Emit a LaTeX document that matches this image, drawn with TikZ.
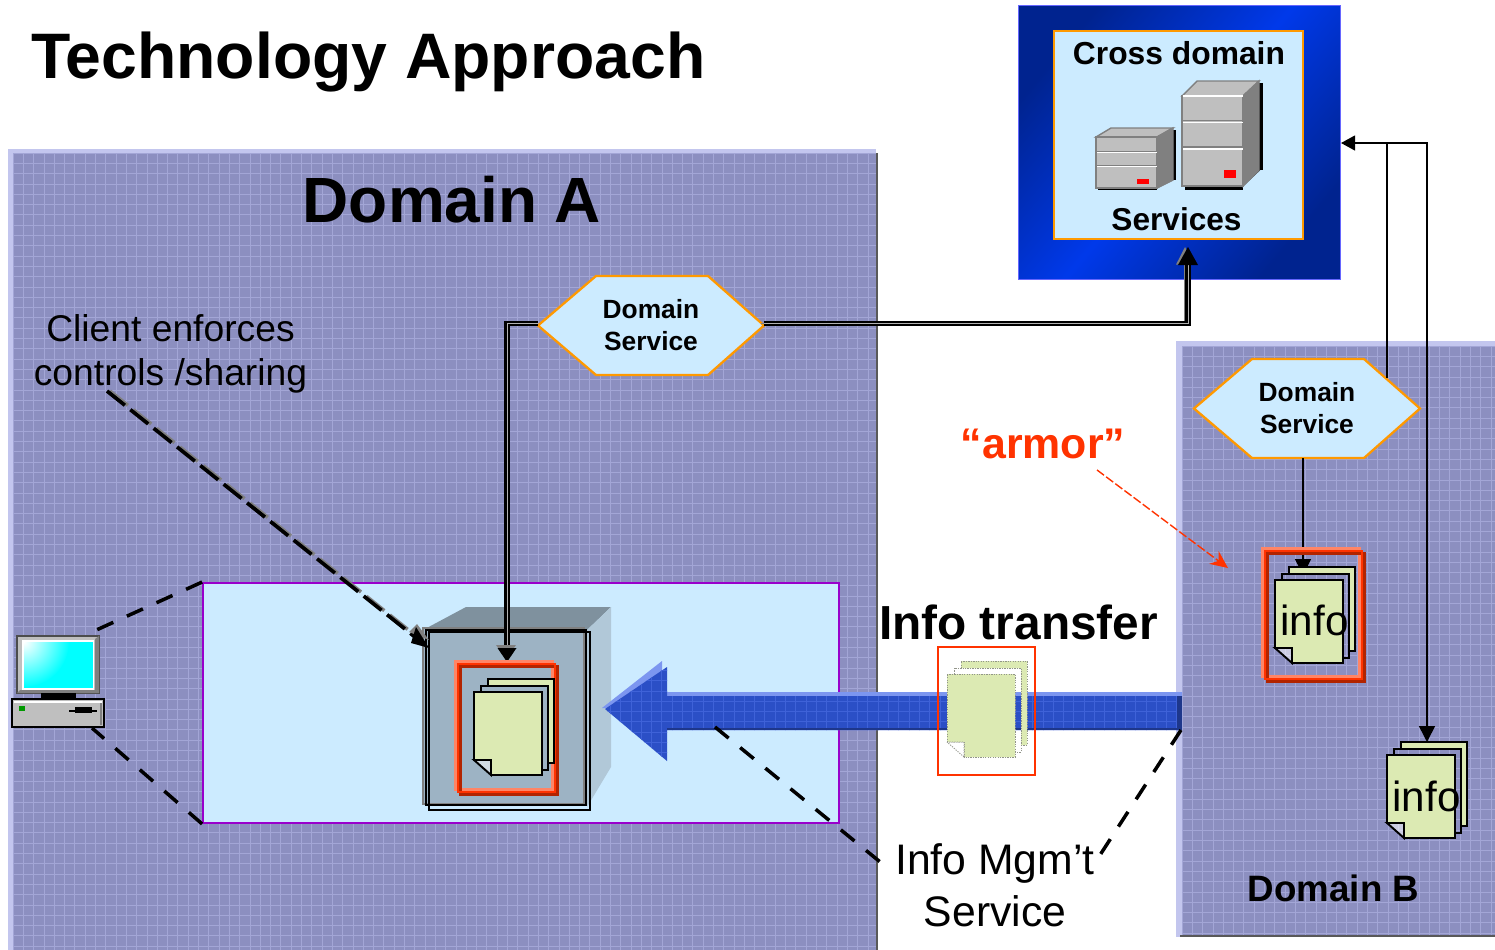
\documentclass[tikz,border=0pt]{standalone}
\usepackage{fontspec}
\setmainfont{Liberation Sans}
\usetikzlibrary{arrows.meta,calc}
\definecolor{meshbase}{HTML}{8C8FC0}
\definecolor{meshline}{HTML}{A3A6D6}
\definecolor{meshedge}{HTML}{C3C6EE}
\definecolor{paleblue}{HTML}{CCEBFF}
\definecolor{orangeline}{HTML}{FF9900}
\definecolor{redline}{HTML}{FF3300}
\definecolor{docgreen}{HTML}{DCEAB3}
\definecolor{purpleline}{HTML}{9900CC}
\definecolor{flow}{HTML}{2B4FC6}
\definecolor{flowlight}{HTML}{7C96F0}
\definecolor{flowgrid}{HTML}{3F62D8}
\definecolor{srvgray}{HTML}{BFBFBF}
\definecolor{srvside}{HTML}{808080}
\definecolor{crossdark}{HTML}{00238F}
\definecolor{crossbright}{HTML}{0039EA}
\definecolor{cubefront}{HTML}{9DB3C4}
\definecolor{cubetop}{HTML}{7F919E}
\definecolor{cubeside}{HTML}{B1C8D8}
\definecolor{screencyan}{HTML}{00FFFF}
\tikzset{
  x=0.02cm,y=-0.02cm,
  bigtext/.style={font=\fontsize{#1}{#1}\selectfont\bfseries,text=black,inner sep=0pt},
  plain/.style={font=\fontsize{#1}{#1}\selectfont,text=black,inner sep=0pt},
  hexlabel/.style={minimum width=4.52cm,minimum height=1.98cm,inner sep=0pt,
    align=center,font=\fontsize{15pt}{18.2pt}\selectfont\bfseries},
  dashline/.style={draw=black,line width=2.1pt,dash pattern=on 13pt off 4pt},
  dashthin/.style={draw=black,line width=2pt,dash pattern=on 10pt off 8.5pt},
  doubleconn/.style={draw=black,line width=1.2pt,double=gray!60,double distance=.5pt},
  thin conn/.style={draw=black,line width=0.9pt},
  docoutline/.style={draw=black,line width=1.1pt},
  pics/hexshape/.style={code={
    \draw[draw=orangeline,line width=1.3pt,fill=paleblue] (-113,0)--(-55,-49.5)--(57,-49.5)--(113,0)--(57,49.5)--(-55,49.5)--cycle;
  }},
  pics/docs/.style={code={
    \path[docoutline,fill=docgreen] (14,-13)--(80,-13)--(80,71)--(74,71)--(74,-6)--(14,-6)--cycle;
    \path[docoutline] (7,0)--(7,-6)--(74,-6)--(74,78)--(68,78);
    \path[docoutline,fill=docgreen] (0,0)--(68,0)--(68,83)--(17,83)--(17,68)--(0,68)--cycle;
    \path[docoutline,fill=white,fill opacity=.55] (0,68)--(17,68)--(17,83)--cycle;
  }},
  pics/armorframe/.style={code={
    \draw[redline!60!white,line width=1.6pt] (-2.5,-2.5) rectangle (94.5,125.5);
    \draw[redline!70!black,line width=1.6pt] (2.5,2.5) rectangle (99.5,130.5);
    \draw[redline,line width=1.6pt] (0,0) rectangle (97,128);
  }},
}
\begin{document}
\begin{tikzpicture}
\useasboundingbox (0,0) rectangle (1495,950);
\fill[white] (0,0) rectangle (1495,950);

% Domain A
\fill[meshedge] (8,149) rectangle (876,950);
\begin{scope}
  \clip (13,153) rectangle (876,950);
  \fill[meshbase] (13,153) rectangle (876,950);
  \foreach \gx in {0,...,85} \draw[meshline,line width=.4pt] (13+\gx*10.3,153) -- (13+\gx*10.3,950);
  \foreach \gy in {0,...,78} \draw[meshline,line width=.4pt] (13,153+\gy*10.3) -- (876,153+\gy*10.3);
\end{scope}
\fill[gray!70!black] (876,153) rectangle (878,950);

% Domain B
\fill[meshedge] (1176,341) rectangle (1495,937);
\begin{scope}
  \clip (1182,346) rectangle (1495,935);
  \fill[meshbase] (1182,346) rectangle (1495,935);
  \foreach \gx in {0,...,31} \draw[meshline,line width=.4pt] (1182+\gx*10.3,346) -- (1182+\gx*10.3,935);
  \foreach \gy in {0,...,58} \draw[meshline,line width=.4pt] (1182,346+\gy*10.3) -- (1495,346+\gy*10.3);
\end{scope}
\fill[gray!70!black] (1180,935) rectangle (1495,937);

% Client zoom area
\node[draw=purpleline,line width=1.1pt,fill=paleblue,minimum width=12.72cm,minimum height=4.8cm,inner sep=0pt] (zoomarea) at (521,703) {};

% Cube
\fill[cubetop] (423,630)--(466,607)--(611,607)--(587,630)--cycle;
\fill[cubeside] (587,630)--(611,607)--(611,767)--(587,807)--cycle;
\node[fill=cubefront,draw=gray,line width=.9pt,minimum width=3.22cm,minimum height=3.52cm,inner sep=0pt] (cube) at (503.5,716) {};
\draw[black,line width=1pt] (426,630) rectangle (586,805);
\draw[black,line width=1pt] (429,632) rectangle (590,810);

% Flow arrow
\begin{scope}
  \fill[flowlight] (602,708)--(662,661)--(662,692)--(1182,692)--(1182,730)--(662,730)--(662,708)--cycle;
  \path[clip] (605,709)--(667,667)--(667,696)--(1182,696)--(1182,730)--(667,730)--(667,761)--cycle;
  \fill[flow] (600,660) rectangle (1182,765);
  \foreach \gx in {0,...,57} \draw[flowgrid,line width=.4pt] (600+\gx*10.3,660) -- (600+\gx*10.3,765);
  \foreach \gy in {0,...,10} \draw[flowgrid,line width=.4pt] (600,660+\gy*10.3) -- (1182,660+\gy*10.3);
  \fill[flow!70!black] (667,727.5) rectangle (1182,730);
  \fill[flow!70!black] (1177,690) rectangle (1182,732);
\end{scope}

% Cross domain
\node[minimum width=6.44cm,minimum height=5.48cm,inner sep=0pt,draw=blue!60!white,line width=.4pt,
  top color=crossdark,bottom color=crossdark,middle color=crossbright,shading angle=50] (cross) at (1179,142) {};
\node[minimum width=4.98cm,minimum height=4.16cm,inner sep=0pt,draw=orangeline,line width=1.3pt,fill=paleblue] (crossinner) at (1178.5,135) {};
\node[bigtext=18.1pt] (crosslabel) at (1179,53) {Cross domain};
\node[bigtext=18pt] (serviceslabel) at (1176.5,219) {Services};

% Big server
\fill[black] (1259,83) rectangle (1263,170);
\fill[black] (1185,186) rectangle (1243,190);
\draw[black,line width=.3pt] (1243,186)--(1260,170);
\draw[gray,line width=.8pt,fill=srvgray] (1182,96)--(1197,81)--(1259,81)--(1243,96)--cycle;
\draw[gray,line width=.8pt,fill=srvside] (1243,96)--(1259,81)--(1259,170)--(1243,186)--cycle;
\draw[gray,line width=.8pt,fill=srvgray] (1182,96) rectangle (1243,186);
\draw[white,line width=.8pt] (1183,96)--(1243,96);
\foreach \yy in {121.5,148}{
  \draw[gray,line width=.6pt] (1183,\yy-1)--(1243,\yy-1);
  \draw[white,line width=.6pt] (1183,\yy+1)--(1243,\yy+1);
}
\fill[red] (1224,170) rectangle (1236,178);
% Small server
\fill[black] (1172,130) rectangle (1176,180);
\fill[black] (1098,188) rectangle (1157,190);
\draw[black,line width=.3pt] (1157,188)--(1173,180);
\draw[gray,line width=.8pt,fill=srvgray] (1096,137)--(1111,128)--(1173,128)--(1157,137)--cycle;
\draw[gray,line width=.8pt,fill=srvside] (1157,137)--(1173,128)--(1173,180)--(1157,188)--cycle;
\draw[gray,line width=.8pt,fill=srvgray] (1096,137) rectangle (1157,188);
\foreach \yy in {152,166}{
  \draw[gray,line width=.5pt] (1097,\yy-1)--(1157,\yy-1);
  \draw[white,line width=.5pt] (1097,\yy+.6)--(1157,\yy+.6);
}
\fill[red] (1137,179) rectangle (1149,184);

% Free ends
\coordinate (crossin) at (1188,247);
\coordinate (cubein) at (507,662);
\coordinate (armorin) at (1303,575);
\coordinate (bstackin) at (1427,742);
\coordinate (bcorner) at (1427,143);
\coordinate (clientnote) at (107,391);
\coordinate (clienttip) at (429,648);
\coordinate (flowpoint) at (715,727);
\coordinate (flowend) at (1181,730);
\coordinate (mgmtleft) at (890,870);
\coordinate (mgmtright) at (1100,855);
\coordinate (pctop) at (92,632);
\coordinate (pcbottom) at (92,728);
\coordinate (armorstart) at (1097,470);
\coordinate (armortip) at (1228,568);
\coordinate (hexBout) at (1387,378);
\coordinate (crosseast) at (1341,143);

% Dashed connectors
\draw[gray,line width=2pt,dash pattern=on 13pt off 4pt] ($(clientnote)+(3,0)$) -- ($(clienttip)+(-8,-8)$);
\draw[dashline] (clientnote) -- ($(clienttip)+(-14,-11)$);
\fill[gray] (clienttip) ++(-20,-16) -- ++(8,-8) -- ++(12,16) -- cycle;
\fill[black] (clienttip) -- ++(-18,-5) -- ++(5,-16) -- cycle;
\draw[dashthin] (flowpoint) -- (mgmtleft);
\draw[dashthin] (flowend) -- (mgmtright);
\draw[dashthin] (zoomarea.north west) -- (pctop);
\draw[dashthin] (zoomarea.south west) -- (pcbottom);
\draw[redline,line width=.8pt,dash pattern=on 5pt off 1.5pt,-{Stealth[length=10pt,width=9pt]}] (armorstart) -- (armortip);

% Hexagons
\pic at (651,325.5) {hexshape};
\node[hexlabel] (dsA) at (651,325.5) {Domain\\Service};
\pic at (1307,408.5) {hexshape};
\node[hexlabel] (dsB) at (1307,408.5) {Domain\\Service};

% Double connectors
\draw[gray,line width=.8pt,-{Triangle[length=10pt,width=10pt]}] ([shift={(-3,-2)}]dsA.east) -| ([xshift=-.06cm]crossin);
\draw[doubleconn] ([yshift=.04cm]dsA.east) -| ($(crossin)+(0,12)$);
\fill[black] (crossin) -- ++(10,18) -- ++(-20,0) -- cycle;
\draw[doubleconn] ([yshift=.04cm]dsA.west) -| ($(cubein)+(0,-12)$);
\fill[gray] ($(cubein)+(-11,-17)$) -- ++(20,0) -- ++(-10,14) -- cycle;
\fill[black] (cubein) -- ++(-9.5,-14) -- ++(19,0) -- cycle;

% Thin connectors
\draw[thin conn,-{Triangle[length=9pt,width=9pt]}] (dsB.south -| armorin) -- (armorin);
\draw[thin conn,-{Triangle[length=8pt,width=8.5pt]}] (hexBout) |- (crosseast);
\draw[thin conn,-{Triangle[length=9pt,width=9pt]}] (hexBout |- bcorner) -- (bcorner) -- (bstackin);

% Doc stacks and frames
\pic at (458,664) {armorframe};
\pic at (474,692) {docs};
\pic at (1265,551) {armorframe};
\pic at (1275,580) {docs};
\pic at (1387,755) {docs};
\draw[redline,line width=.9pt] (938,647) rectangle (1035,775);
\pic[docoutline/.style={draw=gray!80!docgreen,line width=.5pt,dash pattern=on .7pt off .7pt}] at (947,674) {docs};

% Computer
\node[minimum width=1.64cm,minimum height=1.14cm,inner sep=0pt,fill=srvgray,draw=black!70,line width=.6pt] (monitor) at (58,664.5) {};
\fill[gray] (95,639)--(99,636)--(99,693)--(17,693)--(20,690)--(95,690)--cycle;
\fill[white] (22,640) rectangle (94,690);
\fill[screencyan] (24,642) rectangle (93,688);
\begin{scope}
  \clip (24,642) rectangle (93,688);
  \shade[inner color=white,outer color=screencyan] (24,642) circle[radius=.9cm];
\end{scope}
\fill[black] (41,693) rectangle (76,698);
\node[minimum width=1.84cm,minimum height=.56cm,inner sep=0pt,fill=srvgray,draw=black,line width=.9pt] (pccase) at (58,713) {};
\fill[white] (14,701) rectangle (102,703);
\fill[gray] (100,703) rectangle (102,725);
\fill[green!60!black] (19,706) rectangle (25,711);
\fill[black] (69,709.5) rectangle (97,711.5);
\fill[black] (75,707) rectangle (92,713);

% Labels
\node[bigtext=36.6pt,anchor=west] (title) at (31,62) {Technology Approach};
\node[bigtext=36.4pt] (domA) at (452,200) {Domain A};
\node[bigtext=20.9pt] (domB) at (1333.5,888) {Domain B};
\node[plain=21pt,align=center,font=\fontsize{21.2pt}{25pt}\selectfont] (client) at (170.5,354) {Client enforces\\controls /sharing};
\node[bigtext=27.2pt] (transfer) at (1018.5,622) {Info transfer};
\node[plain=23.3pt,align=center,font=\fontsize{24.3pt}{29.6pt}\selectfont] (mgmt) at (995,885) {Info Mgm’t\\Service};
\node[bigtext=24.4pt,text=redline] (armor) at (1043,444) {“armor”};
\node[plain=24pt] (info1) at (1314.5,620) {info};
\node[plain=24pt] (info2) at (1426.5,796) {info};
\end{tikzpicture}
\end{document}
